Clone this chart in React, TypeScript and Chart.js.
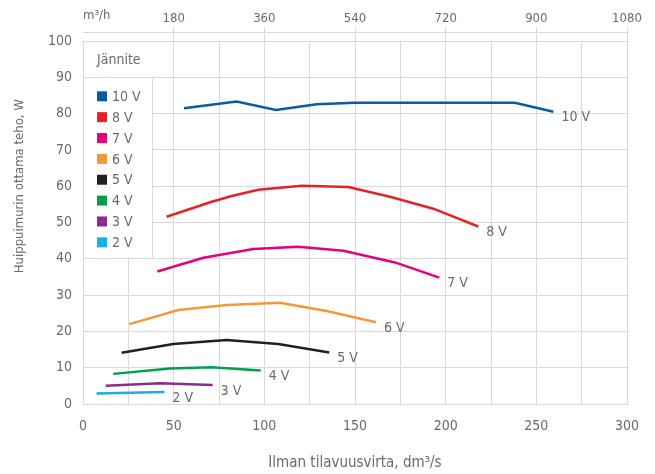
import React, { useEffect, useRef } from "react";
import { Chart, registerables } from "chart.js";
Chart.register(...registerables);

const FONT = "'Liberation Sans Narrow', 'DejaVu Sans Condensed', 'Roboto Condensed', Roboto, sans-serif";
const TEXT = "#6a6a6a";
const GRID = "#d9d9d9";

const seriesNames = ["10 V", "8 V", "7 V", "6 V", "5 V", "4 V", "3 V", "2 V"];
const seriesColors = ["#0a5aa6", "#e52229", "#e6007e", "#f29a38", "#231f20", "#00a04f", "#8b2b8f", "#19aee6"];

const x10 = [55.7, 84.7, 106.4, 128.9, 150, 238.2, 259.4];
const y10 = [81.5, 83.3, 81.0, 82.6, 83.0, 83.0, 80.5];
const x8 = [46.1, 71, 82, 96.7, 120.6, 146.3, 169.3, 193.2, 218];
const y8 = [51.6, 55.7, 57.3, 59.0, 60.1, 59.8, 57.1, 53.8, 48.9];
const x7 = [41.0, 66.4, 93.9, 118.7, 143.6, 172.1, 196.5];
const y7 = [36.5, 40.3, 42.7, 43.3, 42.2, 39.0, 34.8];
const x6 = [25.5, 52.6, 79.2, 108.6, 134.4, 161.6];
const y6 = [22.0, 25.9, 27.3, 27.9, 25.6, 22.5];
const x5 = [21.3, 49.8, 79.2, 107.7, 135.8];
const y5 = [14.1, 16.5, 17.6, 16.5, 14.2];
const x4 = [16.7, 48, 71, 98];
const y4 = [8.3, 9.8, 10.1, 9.2];
const x3 = [12.5, 42.5, 71.5];
const y3 = [5.0, 5.7, 5.2];
const x2 = [7.5, 44.9];
const y2 = [2.9, 3.3];

const seriesX = [x10, x8, x7, x6, x5, x4, x3, x2];
const seriesY = [y10, y8, y7, y6, y5, y4, y3, y2];

const legendTitle = "Jännite";
const yTitle = "Huippuimurin ottama teho, W";
const xTitle = "Ilman tilavuusvirta, dm³/s";
const topUnit = "m³/h";

const font = (size: number) => `${size}px ${FONT}`;

const legendPlugin = {
  id: "legendBox",
  beforeDatasetsDraw(chart: any) {
    const { ctx, chartArea, scales } = chart;
    const { left, top } = chartArea;
    const xs = scales.x;
    const ys = scales.y;
    const x50 = xs.getPixelForValue(50);
    const xr = Math.round(xs.getPixelForValue(38)) + 0.5;
    const y90 = ys.getPixelForValue(90);
    const y40 = ys.getPixelForValue(40);
    ctx.save();
    ctx.fillStyle = "#ffffff";
    ctx.fillRect(left + 1, top + 1, x50 - left - 2, y90 - top - 2);
    ctx.fillRect(left + 1, y90 + 1, xr - left - 1, y40 - y90 - 2);
    ctx.strokeStyle = GRID;
    ctx.lineWidth = 1;
    ctx.beginPath();
    ctx.moveTo(xr, y90);
    ctx.lineTo(xr, y40);
    ctx.stroke();
    ctx.fillStyle = TEXT;
    ctx.font = font(14);
    ctx.textAlign = "left";
    ctx.textBaseline = "middle";
    ctx.fillText(legendTitle, left + 14, (top + y90) / 2 + 1);
    const step = (y40 - y90) / 8.7;
    for (let i = 0; i < seriesNames.length; i++) {
      const cy = y90 + 19 + i * step;
      ctx.fillStyle = seriesColors[i];
      ctx.fillRect(left + 14, cy - 5, 10, 10);
      ctx.fillStyle = TEXT;
      ctx.fillText(seriesNames[i], left + 29, cy + 1);
    }
    ctx.restore();
  },
};

const decorPlugin = {
  id: "decor",
  afterDatasetsDraw(chart: any) {
    const { ctx, chartArea, scales } = chart;
    ctx.save();
    ctx.font = font(14);
    ctx.fillStyle = TEXT;
    ctx.textAlign = "left";
    ctx.textBaseline = "middle";
    chart.data.datasets.forEach((ds: any, i: number) => {
      const meta = chart.getDatasetMeta(i);
      const last = meta.data[meta.data.length - 1];
      if (last) ctx.fillText(ds.label, last.x + 8, last.y + 6);
    });
    const ay = Math.round(chartArea.top - 9) + 0.5;
    ctx.strokeStyle = GRID;
    ctx.lineWidth = 1;
    ctx.beginPath();
    ctx.moveTo(chartArea.left, ay);
    ctx.lineTo(chartArea.right, ay);
    ctx.stroke();
    ctx.font = font(13);
    ctx.textBaseline = "middle";
    ctx.fillText(topUnit, chartArea.left, 16);
    ctx.save();
    ctx.translate(20, scales.y.getPixelForValue(60));
    ctx.rotate(-Math.PI / 2);
    ctx.textAlign = "center";
    ctx.font = font(13);
    ctx.fillText(yTitle, 0, 0);
    ctx.restore();
    ctx.restore();
  },
};

export default function App() {
  const ref = useRef<HTMLCanvasElement | null>(null);
  useEffect(() => {
    document.body.style.margin = "0";
    const canvas = ref.current;
    if (!canvas) return;
    const datasets = seriesNames.map((name, i) => ({
      label: name,
      data: seriesX[i].map((x, j) => ({ x, y: seriesY[i][j] })),
      borderColor: seriesColors[i],
      backgroundColor: seriesColors[i],
      borderWidth: 2.5,
      pointRadius: 0,
      tension: 0,
      fill: false,
    }));
    const chart = new Chart(canvas, {
      type: "line",
      data: { datasets },
      plugins: [legendPlugin, decorPlugin],
      options: {
        animation: false,
        responsive: false,
        layout: { padding: { left: 0, right: 28, top: 0, bottom: 0 } },
        plugins: { legend: { display: false }, tooltip: { enabled: false } },
        scales: {
          x: {
            type: "linear",
            position: "bottom",
            min: 0,
            max: 300,
            afterFit: (s: any) => { s.height = 70; },
            ticks: {
              stepSize: 25,
              autoSkip: false,
              maxRotation: 0,
              padding: 14,
              color: TEXT,
              font: { family: FONT, size: 14 },
              callback: (v: any) => (Number(v) % 50 === 0 ? String(v) : ""),
            },
            grid: { color: GRID, drawTicks: false },
            border: { color: GRID },
            title: {
              display: true,
              text: xTitle,
              color: TEXT,
              font: { family: FONT, size: 15 },
              padding: { top: 0, bottom: 2 },
            },
          },
          x2: {
            type: "linear",
            position: "top",
            min: 0,
            max: 1080,
            afterFit: (s: any) => { s.height = 41; },
            ticks: {
              stepSize: 180,
              autoSkip: false,
              maxRotation: 0,
              padding: 1,
              color: TEXT,
              font: { family: FONT, size: 13 },
              callback: (v: any) => (Number(v) === 0 ? "" : String(v)),
            },
            grid: {
              drawOnChartArea: false,
              tickLength: 14,
              color: (c: any) => (c.tick && c.tick.value === 0 ? "rgba(0,0,0,0)" : GRID),
            },
            border: { display: false },
          },
          y: {
            type: "linear",
            position: "left",
            min: 0,
            max: 100,
            afterFit: (s: any) => { s.width = 83; },
            ticks: {
              stepSize: 10,
              padding: 11,
              color: TEXT,
              font: { family: FONT, size: 14 },
            },
            grid: { color: GRID, drawTicks: false },
            border: { color: GRID },
          },
        },
      },
    } as any);
    return () => chart.destroy();
  }, []);
  return <canvas ref={ref} width={655} height={474} style={{ display: "block" }} />;
}
